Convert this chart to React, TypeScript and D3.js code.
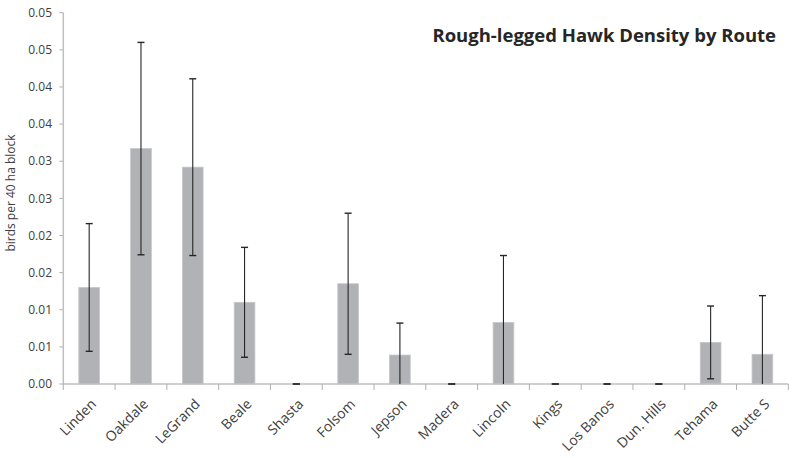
import React from "react";
import * as d3 from "d3";

const routes = ["Linden", "Oakdale", "LeGrand", "Beale", "Shasta", "Folsom", "Jepson", "Madera", "Lincoln", "Kings", "Los Banos", "Dun. Hills", "Tehama", "Butte S"];
const density = [0.0130, 0.0317, 0.0292, 0.0110, 0, 0.0135, 0.0039, 0, 0.0083, 0, 0, 0, 0.0056, 0.0040];
const stdErr = [0.0086, 0.0143, 0.0119, 0.0074, 0, 0.0095, 0.0043, 0, 0.0090, 0, 0, 0, 0.0049, 0.0079];
const yTickValues = [0, 0.005, 0.01, 0.015, 0.02, 0.025, 0.03, 0.035, 0.04, 0.045, 0.05];
const yTickLabels = ["0.00", "0.01", "0.01", "0.02", "0.02", "0.03", "0.03", "0.04", "0.04", "0.05", "0.05"];
const title = "Rough-legged Hawk Density by Route";
const yTitle = "birds per 40 ha block";

const W = 792;
const H = 458;
const left = 63.3;
const right = 788.3;
const top = 12.7;
const bottom = 384;
const FONT = "'Open Sans', Lato, sans-serif";

export default function App() {
  const x = d3.scaleBand<string>().domain(routes).range([left, right]).paddingInner(0.6).paddingOuter(0.3);
  const band = d3.scaleBand<string>().domain(routes).range([left, right]).padding(0);
  const y = d3.scaleLinear().domain([0, 0.05]).range([bottom, top]);
  const bw = x.bandwidth();
  const capW = 7;

  return (
    <div style={{ position: "absolute", left: 0, top: 0 }}>
      <svg width={W} height={H} style={{ display: "block", background: "#fff" }} fontFamily={FONT}>
        {/* y ticks */}
        {yTickValues.map((v, i) => (
          <g key={"yt" + i}>
            <line x1={left - 4} x2={left} y1={y(v)} y2={y(v)} stroke="#b0b0b0" strokeWidth={1} />
            <text x={52} y={y(v)} dy="0.35em" textAnchor="end" fontSize={12} fill="#404040">
              {yTickLabels[i]}
            </text>
          </g>
        ))}
        {/* bars */}
        {routes.map((r, i) => (
          <rect
            key={"b" + r}
            x={x(r)!}
            y={y(density[i])}
            width={bw}
            height={y(0) - y(density[i])}
            fill="#b1b2b6"
            stroke="#c6c7ca"
            strokeWidth={0.8}
          />
        ))}
        {/* x axis */}
        <line x1={left} x2={right} y1={bottom} y2={bottom} stroke="#bfbfbf" strokeWidth={1.5} />
        {routes.map((r) => (
          <line key={"xt" + r} x1={band(r)!} x2={band(r)!} y1={bottom} y2={bottom + 6} stroke="#b0b0b0" strokeWidth={1} />
        ))}
        <line x1={right} x2={right} y1={bottom} y2={bottom + 6} stroke="#b0b0b0" strokeWidth={1} />
        {/* y axis */}
        <line x1={left} x2={left} y1={top} y2={bottom} stroke="#bfbfbf" strokeWidth={1.5} />
        {/* error bars */}
        {routes.map((r, i) => {
          const cx = x(r)! + bw / 2;
          const hiV = density[i] + stdErr[i];
          const loRaw = density[i] - stdErr[i];
          const loV = Math.max(0, loRaw);
          const yh = y(hiV);
          const yl = y(loV);
          return (
            <g key={"e" + r} stroke="#262626" strokeWidth={1.1}>
              <line x1={cx} x2={cx} y1={yh} y2={yl} />
              <line x1={cx - capW / 2} x2={cx + capW / 2} y1={yh} y2={yh} strokeWidth={1.4} />
              {loRaw >= 0 && <line x1={cx - capW / 2} x2={cx + capW / 2} y1={yl} y2={yl} strokeWidth={1.4} />}
            </g>
          );
        })}
        {/* x labels */}
        {routes.map((r) => {
          const cx = x(r)! + bw / 2 + 8;
          const ty = bottom + 21;
          return (
            <text
              key={"xl" + r}
              x={cx}
              y={ty}
              textAnchor="end"
              fontSize={14}
              fill="#404040"
              transform={`rotate(-45 ${cx} ${ty})`}
            >
              {r}
            </text>
          );
        })}
        {/* y title */}
        <text
          x={0}
          y={0}
          transform={`translate(15 ${193}) rotate(-90)`}
          textAnchor="middle"
          fontSize={12}
          fill="#404040"
        >
          {yTitle}
        </text>
        {/* title */}
        <text x={776} y={42} textAnchor="end" fontSize={18.5} fontWeight="bold" fill="#262626">
          {title}
        </text>
      </svg>
    </div>
  );
}
